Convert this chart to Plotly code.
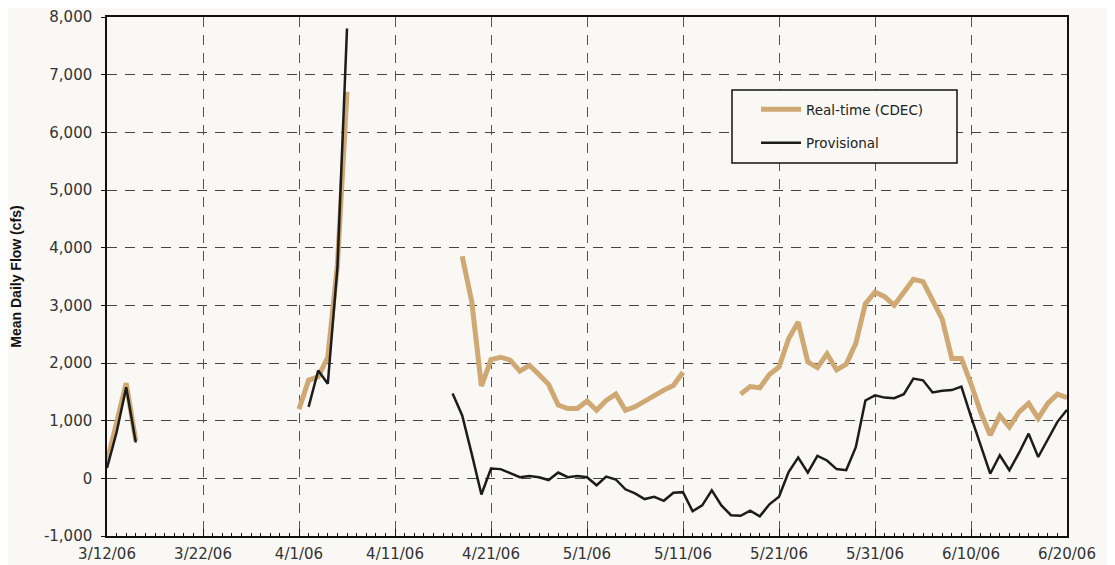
import pandas as pd
import plotly.graph_objects as go

# ---- data -------------------------------------------------------------
dates = pd.date_range("2006-03-12", "2006-06-20", freq="D")  # 101 days

N = None
realtime = (
    [280, 950, 1650, 650]                                   # 3/12-3/15
    + [N] * 16                                              # 3/16-3/31
    + [1200, 1700, 1760, 2100, 3700, 6700]                  # 4/1-4/6
    + [N] * 11                                              # 4/7-4/17
    + [3850, 3060, 1600, 2060, 2100, 2050, 1860, 1960, 1800, 1630, 1270, 1210, 1210]  # 4/18-4/30
    + [1340, 1180, 1350, 1460, 1180, 1240, 1340, 1440, 1530, 1610, 1840]            # 5/1-5/11
    + [N] * 5                                               # 5/12-5/16
    + [1460, 1590, 1570, 1800, 1930, 2420, 2710, 2020, 1920, 2160, 1880, 1980, 2340, 3030, 3230]  # 5/17-5/31
    + [3150, 3000, 3230, 3450, 3410, 3100, 2760, 2080, 2080, 1640,
       1150, 750, 1090, 890, 1150, 1300, 1040, 1300, 1460, 1400]                     # 6/1-6/20
)

provisional = (
    [180, 800, 1580, 620]                                   # 3/12-3/15
    + [N] * 17                                              # 3/16-4/1
    + [1240, 1870, 1640, 3650, 7800]                        # 4/2-4/6
    + [N] * 10                                              # 4/7-4/16
    + [1470, 1090, 420, -280, 170, 160, 90, 20, 40, 20, -30, 100, 20, 40]           # 4/17-4/30
    + [20, -120, 30, -20, -190, -260, -360, -320, -390, -250, -240, -570, -470, -210,
       -470, -640, -650, -560, -660, -450, -320, 110, 360, 100, 390, 310, 160, 140,
       540, 1350, 1440]                                                              # 5/1-5/31
    + [1400, 1390, 1460, 1730, 1700, 1490, 1520, 1530, 1590, 1070,
       560, 80, 400, 140, 440, 775, 370, 680, 980, 1190]                             # 6/1-6/20
)

series_names = ["Real-time (CDEC)", "Provisional"]
y_ticks = [-1000, 0, 1000, 2000, 3000, 4000, 5000, 6000, 7000, 8000]
y_ticklabels = ["-1,000", "0", "1,000", "2,000", "3,000", "4,000",
                "5,000", "6,000", "7,000", "8,000"]

# ---- figure -----------------------------------------------------------
BG = "#f9f8f4"
TAN = "#cfa873"
DARK = "#1c1c1c"

fig = go.Figure()
fig.add_trace(go.Scatter(x=dates, y=realtime, mode="lines", name=series_names[0],
                         line=dict(color=TAN, width=5), connectgaps=False,
                         legendgroup="a"))
fig.add_trace(go.Scatter(x=dates, y=provisional, mode="lines", name=series_names[1],
                         line=dict(color=DARK, width=2.5), connectgaps=False,
                         legendgroup="b"))

# page has an 8px body margin, so the figure is drawn 8px smaller / offset
OFF = 8
W, H = 1115 - OFF, 565 - OFF
ml, mr, mt, mb = 107 - OFF, 48, 17 - OFF, 29
pw, ph = W - ml - mr, H - mt - mb

def px_to_paper(x, y):
    # x, y are screen pixels in the reference picture
    return (x - OFF - ml) / pw, (H - mb - (y - OFF)) / ph

# legend frame
x0, y0 = px_to_paper(732, 163)
x1, y1 = px_to_paper(957, 90)
fig.add_shape(type="rect", xref="paper", yref="paper", x0=x0, y0=y0, x1=x1, y1=y1,
              line=dict(color="#111", width=1.5), fillcolor=BG, layer="above")

lx, ly = px_to_paper(756, 94)

fig.update_layout(
    width=W, height=H,
    margin=dict(l=ml, r=mr, t=mt, b=mb, pad=0),
    paper_bgcolor=BG, plot_bgcolor=BG,
    font=dict(family="DejaVu Sans", size=15, color="#333"),
    showlegend=True,
    legend=dict(x=lx, y=ly, xanchor="left", yanchor="top",
                bgcolor="rgba(0,0,0,0)", borderwidth=0,
                font=dict(family="DejaVu Sans", size=13.5, color="#222"),
                tracegroupgap=13, itemwidth=40),
    xaxis=dict(
        type="date",
        range=["2006-03-12", "2006-06-20"],
        tick0="2006-03-12", dtick=10 * 86400000,
        tickformat="%-m/%-d/%y",
        showgrid=True, gridcolor="#555", griddash="10px,8px", gridwidth=1,
        ticks="inside", ticklen=7, tickcolor="#111", tickwidth=1,
        minor=dict(dtick=86400000, ticks="inside", ticklen=3, tickcolor="#111", showgrid=False),
        showline=True, linecolor="#111", linewidth=1.5, mirror=True,
        zeroline=False, automargin=False,
        ticklabelstandoff=3,
        tickfont=dict(family="DejaVu Sans", size=15, color="#333"),
    ),
    yaxis=dict(
        range=[-1000, 8000],
        tickmode="array", tickvals=y_ticks, ticktext=y_ticklabels,
        showgrid=True, gridcolor="#444", griddash="10px,8px", gridwidth=1,
        ticks="outside", ticklen=4, tickcolor="#111",
        showline=True, linecolor="#111", linewidth=1.5, mirror=True,
        zeroline=False, automargin=False,
        ticklabelstandoff=6,
        tickfont=dict(family="DejaVu Sans", size=15, color="#333"),
        title=dict(text="<b>Mean Daily Flow (cfs)</b>", standoff=22,
                   font=dict(family="Liberation Sans", size=14, color="#111")),
    ),
)

fig.write_html("out.html")
